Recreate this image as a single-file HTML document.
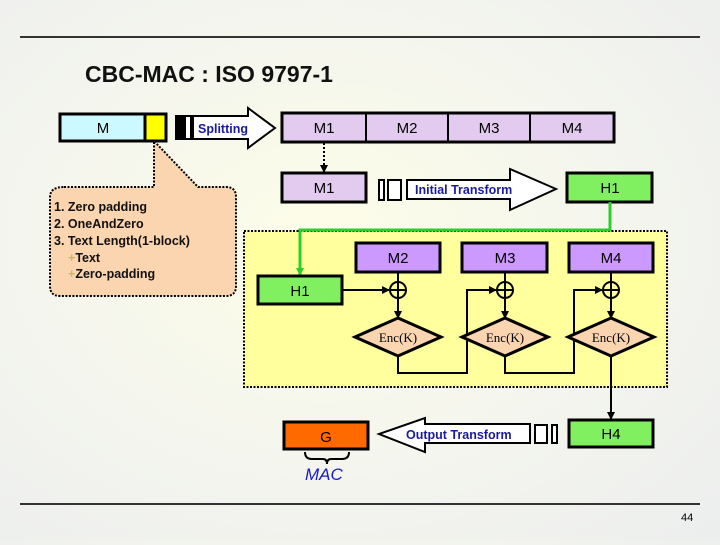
<!DOCTYPE html>
<html><head><style>
body{margin:0;width:720px;height:540px;overflow:hidden;background:radial-gradient(ellipse at 45% 45%,#fdfde8 0%,#f3f4ee 60%,#eceeee 100%);font-family:"Liberation Sans",sans-serif}
</style></head><body>
<svg width="720" height="540" viewBox="0 0 720 540" xmlns="http://www.w3.org/2000/svg" font-family="Liberation Sans, sans-serif">
<defs><marker id="ah" markerWidth="8" markerHeight="8" refX="7" refY="4" orient="auto" markerUnits="userSpaceOnUse"><path d="M0,0 L8,4 L0,8 z" fill="#000"/></marker>
<marker id="ag" markerWidth="8" markerHeight="8" refX="7" refY="4" orient="auto" markerUnits="userSpaceOnUse"><path d="M0,0 L8,4 L0,8 z" fill="#2ad02a"/></marker></defs>
<line x1="20" y1="37" x2="700" y2="37" stroke="#333" stroke-width="2"/>
<line x1="20" y1="504" x2="700" y2="504" stroke="#333" stroke-width="2"/>
<text x="85" y="82" font-size="23" font-weight="bold" fill="#111">CBC-MAC : ISO 9797-1</text>
<!-- M -->
<rect x="60" y="114" width="85" height="27" fill="#ccf8ff" stroke="#000" stroke-width="3"/>
<rect x="145" y="114" width="21" height="27" fill="#ffff00" stroke="#000" stroke-width="3"/>
<text x="103" y="133" font-size="15" text-anchor="middle">M</text>
<!-- splitting arrow -->
<path d="M176,116 H248 V108 L275,128 L248,148 V139 H176 Z" fill="#fff" stroke="#000" stroke-width="2"/>
<rect x="176" y="116" width="10" height="23" fill="#000"/><rect x="190" y="116" width="4" height="23" fill="#000"/>
<text x="198" y="133" font-size="12.5" font-weight="bold" fill="#1a1aa0">Splitting</text>
<!-- top row -->
<rect x="282" y="113" width="332" height="29" fill="#e3cbef" stroke="#000" stroke-width="3"/>
<line x1="366" y1="113" x2="366" y2="142" stroke="#000" stroke-width="2"/>
<line x1="448" y1="113" x2="448" y2="142" stroke="#000" stroke-width="2"/>
<line x1="530" y1="113" x2="530" y2="142" stroke="#000" stroke-width="2"/>
<g font-size="15" text-anchor="middle"><text x="324" y="133">M1</text><text x="407" y="133">M2</text><text x="489" y="133">M3</text><text x="572" y="133">M4</text></g>
<line x1="324" y1="143" x2="324" y2="172" stroke="#000" stroke-width="2" stroke-dasharray="2,2" marker-end="url(#ah)"/>
<rect x="282" y="173" width="84" height="29" fill="#e3cbef" stroke="#000" stroke-width="3"/>
<text x="324" y="193" font-size="15" text-anchor="middle">M1</text>
<rect x="379" y="180" width="5" height="20" fill="#fff" stroke="#000" stroke-width="2"/>
<rect x="388" y="180" width="13" height="20" fill="#fff" stroke="#000" stroke-width="2"/>
<path d="M407,180 H510 V169 L556,189 L510,210 V199 H407 Z" fill="#fff" stroke="#000" stroke-width="2"/>
<text x="415" y="194" font-size="12.5" font-weight="bold" fill="#1a1aa0">Initial Transform</text>
<rect x="567" y="173" width="85" height="29" fill="#80f060" stroke="#000" stroke-width="3"/>
<text x="610" y="193" font-size="15" text-anchor="middle">H1</text>
<!-- callout -->
<path d="M64,187 H154 V141 L198,187 H226 Q236,187 236,197 V286 Q236,296 226,296 H60 Q50,296 50,286 V197 Q50,187 64,187 Z" fill="#fbd5b0" stroke="#000" stroke-width="2" stroke-dasharray="2,1.5"/>
<g font-size="12.5" font-weight="bold" fill="#111">
<text x="54" y="211">1. Zero padding</text><text x="54" y="228">2. OneAndZero</text><text x="54" y="245">3. Text Length(1-block)</text>
<text x="68" y="262"><tspan fill="#c8b860">+</tspan>Text</text><text x="68" y="278"><tspan fill="#c8b860">+</tspan>Zero-padding</text></g>
<!-- yellow area -->
<rect x="244" y="231" width="423" height="156" fill="#ffff9e" stroke="#000" stroke-width="2" stroke-dasharray="2,1.5"/>
<polyline points="610,202 610,230 300,230 300,275" fill="none" stroke="#2ad02a" stroke-width="3" marker-end="url(#ag)"/>
<rect x="258" y="276" width="84" height="28" fill="#80f060" stroke="#000" stroke-width="3"/>
<text x="300" y="296" font-size="15" text-anchor="middle">H1</text>
<g stroke="#000" stroke-width="2" fill="none">
<line x1="342" y1="290" x2="389" y2="290" marker-end="url(#ah)"/>
<polyline points="398,356 398,373 467,373 467,290 496,290" marker-end="url(#ah)"/>
<polyline points="505,356 505,373 574,373 574,290 602,290" marker-end="url(#ah)"/>
<line x1="398" y1="272" x2="398" y2="318" marker-end="url(#ah)"/>
<line x1="505" y1="272" x2="505" y2="318" marker-end="url(#ah)"/>
<line x1="611" y1="272" x2="611" y2="318" marker-end="url(#ah)"/>
<line x1="611" y1="356" x2="611" y2="419" marker-end="url(#ah)"/>
</g>
<g stroke="#000" stroke-width="3" fill="#cc99ff">
<rect x="356" y="243" width="84" height="29"/><rect x="462" y="243" width="85" height="29"/><rect x="569" y="243" width="84" height="29"/></g>
<g font-size="15" text-anchor="middle"><text x="398" y="263">M2</text><text x="505" y="263">M3</text><text x="611" y="263">M4</text></g>
<g stroke="#000" stroke-width="2" fill="none">
<circle cx="398" cy="290" r="8"/><line x1="390" y1="290" x2="406" y2="290"/>
<circle cx="505" cy="290" r="8"/><line x1="497" y1="290" x2="513" y2="290"/>
<circle cx="611" cy="290" r="8"/><line x1="603" y1="290" x2="619" y2="290"/></g>
<g stroke="#000" stroke-width="3" fill="#fbd5b0">
<path d="M398,318 L441,337 L398,356 L355,337 Z"/><path d="M505,318 L548,337 L505,356 L462,337 Z"/><path d="M611,318 L654,337 L611,356 L568,337 Z"/></g>
<g font-size="13" font-family="Liberation Serif, serif" text-anchor="middle"><text x="398" y="342">Enc(K)</text><text x="505" y="342">Enc(K)</text><text x="611" y="342">Enc(K)</text></g>
<!-- bottom -->
<rect x="569" y="420" width="84" height="27" fill="#80f060" stroke="#000" stroke-width="3"/>
<text x="611" y="439" font-size="15" text-anchor="middle">H4</text>
<rect x="535" y="425" width="12" height="18" fill="#fff" stroke="#000" stroke-width="2"/>
<rect x="552" y="425" width="5" height="18" fill="#fff" stroke="#000" stroke-width="2"/>
<path d="M530,424 H425 V418 L379,434 L425,452 V443 H530 Z" fill="#fff" stroke="#000" stroke-width="2"/>
<text x="406" y="439" font-size="12.5" font-weight="bold" fill="#1a1aa0">Output Transform</text>
<rect x="284" y="422" width="84" height="27" fill="#ff6a00" stroke="#000" stroke-width="3"/>
<text x="326" y="442" font-size="15" text-anchor="middle">G</text>
<path d="M305,452 Q305,459 312,459 H323 Q327,459 327,464 Q327,459 331,459 H342 Q349,459 349,452" fill="none" stroke="#000" stroke-width="2"/>
<text x="305" y="480" font-size="17" font-style="italic" fill="#1a1acc">MAC</text>
<text x="681" y="521" font-size="11">44</text>
</svg>
</body></html>
